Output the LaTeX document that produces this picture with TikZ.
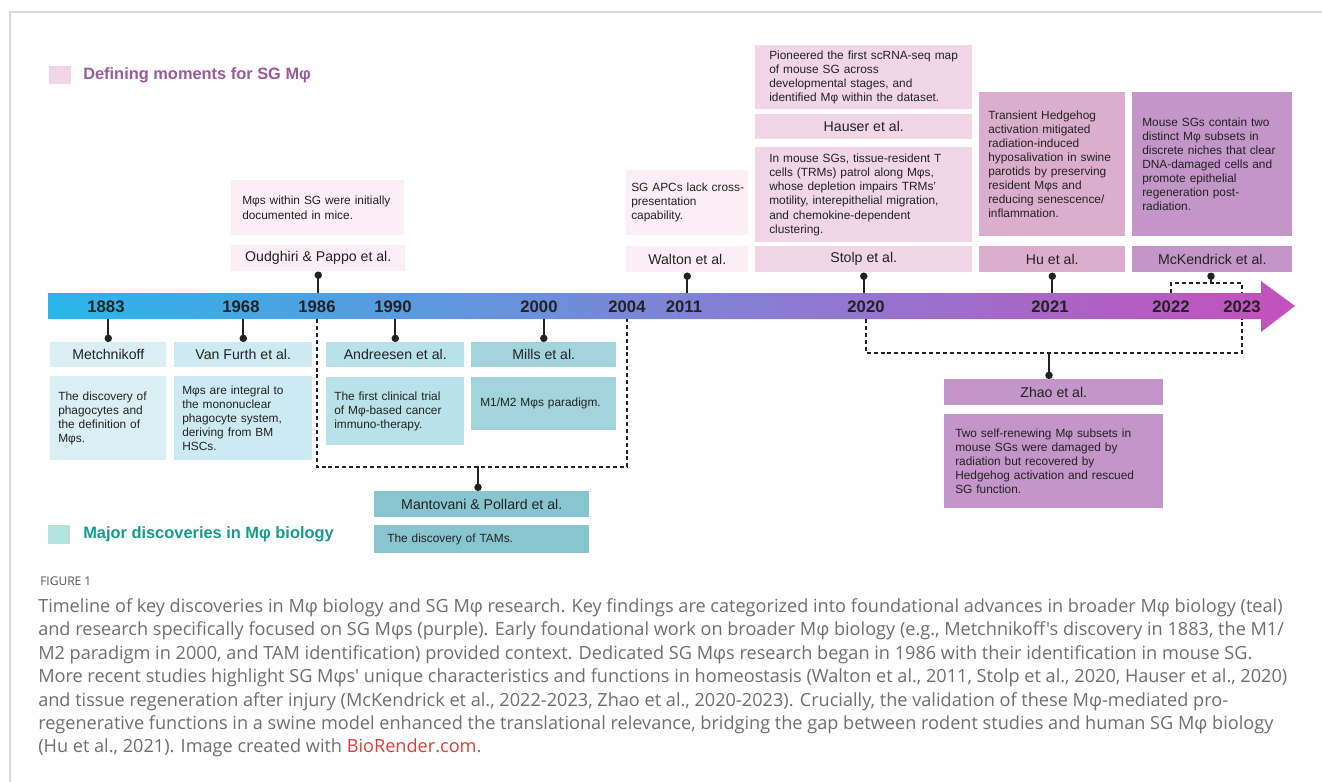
\documentclass[tikz,border=0pt]{standalone}
\usepackage{fontspec}
\setmainfont{Liberation Sans}
\newfontfamily\capfont{Open Sans}
\usetikzlibrary{arrows.meta}

\definecolor{barL}{HTML}{2AB6EA}
\definecolor{barM}{HTML}{7E84D6}
\definecolor{barR}{HTML}{C550BC}
\definecolor{pinkA}{HTML}{FCEEF5}
\definecolor{pinkB}{HTML}{F1D6E8}
\definecolor{pinkC}{HTML}{DCAECD}
\definecolor{purpA}{HTML}{C395C8}
\definecolor{tealA}{HTML}{D9EFF4}
\definecolor{tealB}{HTML}{CDEAF2}
\definecolor{tealC}{HTML}{B9E1EA}
\definecolor{tealD}{HTML}{A3D4DE}
\definecolor{tealE}{HTML}{88C5D0}
\definecolor{legPurple}{HTML}{9A5A9C}
\definecolor{legTeal}{HTML}{159A8E}
\definecolor{legPink}{HTML}{F2D6E8}
\definecolor{legAqua}{HTML}{B5E2DF}
\definecolor{ink}{HTML}{222222}
\definecolor{capgray}{HTML}{6E6E6E}
\definecolor{brlink}{HTML}{E03C3C}

\begin{document}
\begin{tikzpicture}[x=0.75pt, y=-0.75pt,
    every node/.style={inner sep=0pt},
    desc/.style={anchor=north west, align=left, inner ysep=0pt, text=ink, font=\fontsize{8.9}{10.6}\selectfont},
    lbl/.style={anchor=north west, inner sep=0pt, text=ink, font=\fontsize{10.6}{12}\selectfont},
    year/.style={text=ink, font=\bfseries\fontsize{12.5}{14}\selectfont},
    tick/.style={draw=ink, line width=1.5pt, -{Circle[length=5.5pt]}},
    dashlink/.style={draw=ink, line width=1.5pt, dash pattern=on 3pt off 2.2pt},
    legend/.style={anchor=west, font=\bfseries\fontsize{12.3}{14}\selectfont}]
        \useasboundingbox (0,0) rectangle (1322,782);

        % Frame
        \draw[gray!30, line width=0.8pt] (10,782) -- (10,12) -- (1322,12);

        % Legend
        \node[fill=legPink, minimum width=16.1pt, minimum height=13.5pt, anchor=north west] (keyPink) at (49,66) {};
        \node[legend, text=legPurple] (keyPinkTxt) at (83,75) {Defining moments for SG Mφ};
        \node[fill=legAqua, minimum width=16.5pt, minimum height=14.25pt, anchor=north west] (keyTeal) at (48,525) {};
        \node[legend, text=legTeal] (keyTealTxt) at (83,534) {Major discoveries in Mφ biology};

        % Timeline bar
        \shade[left color=barL, right color=barR, middle color=barM] (48,293) -- (1261,293) -- (1261,281) -- (1295,306) -- (1261,332) -- (1261,319) -- (48,319) -- cycle;
        \coordinate (bartop) at (48,293);
        \coordinate (barbot) at (48,319);

        % Years
        \node[year] (y1883) at (106,307) {1883};
        \node[year] (y1968) at (241,307) {1968};
        \node[year] (y1986) at (317,307) {1986};
        \node[year] (y1990) at (393,307) {1990};
        \node[year] (y2000) at (539,307) {2000};
        \node[year] (y2004) at (627,307) {2004};
        \node[year] (y2011) at (684,307) {2011};
        \node[year] (y2020) at (866,307) {2020};
        \node[year] (y2021) at (1050,307) {2021};
        \node[year] (y2022) at (1171,307) {2022};
        \node[year] (y2023) at (1242,307) {2023};

        % SG Mphi studies (above the bar)
        \node[desc, fill=pinkA, text width=113.25pt, inner xsep=8.25pt, minimum height=41.25pt] (oudD) at (231,180) {Mφs within SG were initially\\documented in mice.\\[6pt]};
        \node[lbl, fill=pinkA, minimum width=130.5pt, minimum height=19.5pt] (oudL) at (231,245) {Oudghiri \& Pappo et al.};

        \node[desc, fill=pinkA, text width=84pt, inner xsep=3.75pt, minimum height=48.75pt] (walD) at (626,170) {\mbox{SG APCs lack cross-}\\presentation\\capability.};
        \node[lbl, fill=pinkA, minimum width=91.5pt, minimum height=19.5pt] (walL) at (626,246) {Walton et al.};

        \node[desc, fill=pinkB, text width=141.75pt, inner xsep=10.5pt, minimum height=48pt] (hauD) at (755,45) {Pioneered the first scRNA-seq map\\of mouse SG across\\developmental stages, and\\identified Mφ within the dataset.};
        \node[lbl, fill=pinkB, minimum width=162.75pt, minimum height=18.75pt] (hauL) at (755,114) {Hauser et al.};

        \node[desc, fill=pinkB, text width=141.75pt, inner xsep=10.5pt, minimum height=71.25pt] (stoD) at (755,147) {In mouse SGs, tissue-resident T\\cells (TRMs) patrol along Mφs,\\whose depletion impairs TRMs'\\motility, interepithelial migration,\\and chemokine-dependent\\clustering.};
        \node[lbl, fill=pinkB, minimum width=162.75pt, minimum height=19.5pt] (stoL) at (755,246) {Stolp et al.};

        \node[desc, fill=pinkC, text width=96pt, inner xsep=6.75pt, minimum height=108pt] (huD) at (979,92) {Transient Hedgehog\\activation mitigated\\radiation-induced\\hyposalivation in swine\\parotids by preserving\\resident Mφs and\\reducing senescence/\\inflammation.};
        \node[lbl, fill=pinkC, minimum width=109.5pt, minimum height=19.5pt] (huL) at (979,246) {Hu et al.};

        \node[desc, fill=purpA, text width=105pt, inner xsep=7.5pt, minimum height=108pt] (mckD) at (1132,92) {Mouse SGs contain two\\distinct Mφ subsets in\\discrete niches that clear\\DNA-damaged cells and\\promote epithelial\\regeneration post-\\radiation.};
        \node[lbl, fill=purpA, minimum width=120pt, minimum height=19.5pt] (mckL) at (1132,246) {McKendrick et al.};

        % Mphi biology (below the bar)
        \node[lbl, fill=tealA, minimum width=87pt, minimum height=18.75pt] (metL) at (50,342) {Metchnikoff};
        \node[desc, fill=tealA, text width=75pt, inner xsep=6pt, minimum height=63pt] (metD) at (50,376) {The discovery of\\phagocytes and\\the definition of\\Mφs.};

        \node[lbl, fill=tealB, minimum width=103.5pt, minimum height=18.75pt] (vanL) at (174,342) {Van Furth et al.};
        \node[desc, fill=tealB, text width=91.5pt, inner xsep=6pt, minimum height=63pt] (vanD) at (174,376) {Mφs are integral to\\the mononuclear\\phagocyte system,\\deriving from BM\\HSCs.};

        \node[lbl, fill=tealC, minimum width=103.5pt, minimum height=18.75pt] (andL) at (326,342) {Andreesen et al.};
        \node[desc, fill=tealC, text width=91.5pt, inner xsep=6pt, minimum height=51pt] (andD) at (326,377) {The first clinical trial\\of Mφ-based cancer\\immuno-therapy.};

        \node[lbl, fill=tealD, minimum width=108.75pt, minimum height=18.75pt] (milL) at (471,342) {Mills et al.};
        \node[desc, fill=tealD, text width=95.25pt, inner xsep=6.75pt, minimum height=39.75pt] (milD) at (471,377) {M1/M2 Mφs paradigm.};

        \node[lbl, fill=tealE, minimum width=161.25pt, minimum height=19.5pt] (manL) at (374,491) {Mantovani \& Pollard et al.};
        \node[desc, fill=tealE, text width=141.75pt, inner xsep=9.75pt, minimum height=21pt] (manD) at (374,525) {The discovery of TAMs.};

        \node[lbl, fill=purpA, minimum width=164.25pt, minimum height=19.5pt] (zhaL) at (944,379) {Zhao et al.};
        \node[desc, fill=purpA, text width=147.75pt, inner xsep=8.25pt, minimum height=70.5pt] (zhaD) at (944,414) {Two self-renewing Mφ subsets in\\mouse SGs were damaged by\\radiation but recovered by\\Hedgehog activation and rescued\\SG function.};

        % Ticks to the bar
        \draw[tick] (oudL.south |- bartop) -- (oudL.south);
        \draw[tick] (walL.south |- bartop) -- (walL.south);
        \draw[tick] (stoL.south |- bartop) -- (stoL.south);
        \draw[tick] (huL.south |- bartop) -- (huL.south);
        \draw[tick] (metL.north |- barbot) -- (metL.north);
        \draw[tick] (vanL.north |- barbot) -- (vanL.north);
        \draw[tick] (andL.north |- barbot) -- (andL.north);
        \draw[tick] (milL.north |- barbot) -- (milL.north);

        % Brackets over several years
        \coordinate (mckJ) at (1211,283);
        \draw[dashlink] (y2022 |- bartop) |- (mckJ) -| (y2023 |- bartop);
        \draw[tick] (mckJ) -- (mckJ |- mckL.south);

        \coordinate (manJ) at (478,467);
        \draw[dashlink] (y1986 |- barbot) |- (manJ) -| (y2004 |- barbot);
        \draw[tick] (manJ) -- (manJ |- manL.north);

        \coordinate (zhaJ) at (1049,353);
        \draw[dashlink] (y2020 |- barbot) |- (zhaJ) -| (y2023 |- barbot);
        \draw[tick] (zhaJ) -- (zhaJ |- zhaL.north);

        % Caption
        \node[anchor=north west, text=capgray!75!black, font=\capfont\fontsize{9}{10}\selectfont] (figNo) at (40,577) {FIGURE 1};
        \node[anchor=north west, align=left, text=capgray, font=\capfont\fontsize{13.6}{17.6}\selectfont] (caption) at (38,598) {Timeline of key discoveries in Mφ biology and SG Mφ research. Key findings are categorized into foundational advances in broader Mφ biology (teal)\\
and research specifically focused on SG Mφs (purple). Early foundational work on broader Mφ biology (e.g., Metchnikoff's discovery in 1883, the M1/\\
M2 paradigm in 2000, and TAM identification) provided context. Dedicated SG Mφs research began in 1986 with their identification in mouse SG.\\
More recent studies highlight SG Mφs' unique characteristics and functions in homeostasis (Walton et al., 2011, Stolp et al., 2020, Hauser et al., 2020)\\
and tissue regeneration after injury (McKendrick et al., 2022-2023, Zhao et al., 2020-2023). Crucially, the validation of these Mφ-mediated pro-\\
regenerative functions in a swine model enhanced the translational relevance, bridging the gap between rodent studies and human SG Mφ biology\\
(Hu et al., 2021). Image created with \textcolor{brlink}{BioRender.com}.};
    \end{tikzpicture}
\end{document}
